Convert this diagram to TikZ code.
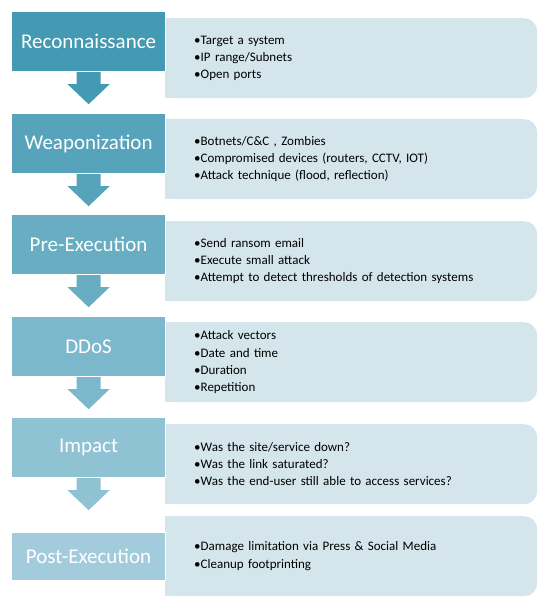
\documentclass[tikz,border=0pt]{standalone}
\usepackage{fontspec}
\setmainfont{Carlito}
\definecolor{ca}{HTML}{4499B3}
\definecolor{cb}{HTML}{57A3BB}
\definecolor{cc}{HTML}{69ADC3}
\definecolor{cd}{HTML}{7CB8CB}
\definecolor{ce}{HTML}{8FC2D3}
\definecolor{cf}{HTML}{A2CCDB}
\definecolor{boxfill}{HTML}{D5E5EC}
\tikzset{
  stagebox/.style={draw=white, line width=1.2pt, text=white, minimum width=154pt, minimum height=60pt,
    anchor=north west, inner sep=0pt, font=\fontsize{21}{24}\selectfont},
  detailbox/.style={fill=boxfill, rounded corners=13pt, minimum width=372pt, minimum height=80pt,
    anchor=north west, inner xsep=29pt, inner ysep=0pt, text width=314pt, align=left,
    font=\fontsize{13}{17.3}\selectfont},
}
\newcommand{\stagearrow}[2]{%
  \fill[#2] ([xshift=-12pt]#1.south) -- ([xshift=-12pt,yshift=-12pt]#1.south)
    -- ([xshift=-21pt,yshift=-12pt]#1.south) -- ([yshift=-32pt]#1.south)
    -- ([xshift=21pt,yshift=-12pt]#1.south) -- ([xshift=12pt,yshift=-12pt]#1.south)
    -- ([xshift=12pt]#1.south) -- cycle;}
\begin{document}
\begin{tikzpicture}[x=1pt,y=-1pt]
\useasboundingbox[fill=white] (0,0) rectangle (546,606);
% detail boxes
\node[detailbox] (d1) at (165,18) {•Target a system\\•IP range/Subnets\\•Open ports};
\node[detailbox] (d2) at (165,119) {•Botnets/C\&C , Zombies\\•Compromised devices (routers, CCTV, IOT)\\•Attack technique (flood, reflection)};
\node[detailbox] (d3) at (165,221) {•Send ransom email\\•Execute small attack\\•Attempt to detect thresholds of detection systems};
\node[detailbox] (d4) at (165,322) {•Attack vectors\\•Date and time\\•Duration\\•Repetition};
\node[detailbox] (d5) at (165,424) {•Was the site/service down?\\•Was the link saturated?\\•Was the end-user still able to access services?};
\node[detailbox] (d6) at (165,516) {•Damage limitation via Press \& Social Media\\•Cleanup footprinting};
\foreach \d in {d1,d2,d3,d4,d5,d6}{
  \fill[boxfill] (\d.north west) rectangle ([xshift=15pt]\d.south west);
}
% stage boxes
\node[stagebox, fill=ca] (s1) at (11,11) {Reconnaissance};
\node[stagebox, fill=cb] (s2) at (11,113) {Weaponization};
\node[stagebox, fill=cc] (s3) at (11,214) {Pre-Execution};
\node[stagebox, fill=cd] (s4) at (11,316) {DDoS};
\node[stagebox, fill=ce] (s5) at (11,417) {Impact};
\node[stagebox, fill=cf, minimum height=48pt] (s6) at (11,532) {Post-Execution};
% arrows
\stagearrow{s1}{ca}
\stagearrow{s2}{cb}
\stagearrow{s3}{cc}
\stagearrow{s4}{cd}
\stagearrow{s5}{ce}
\end{tikzpicture}
\end{document}
